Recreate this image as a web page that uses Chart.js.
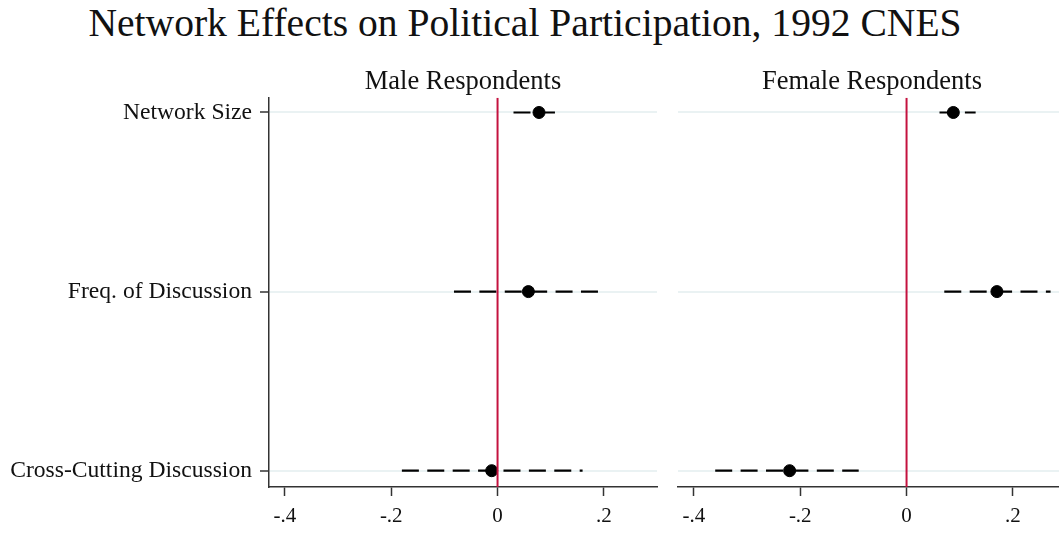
<!DOCTYPE html>
<html lang="en">
<head>
    <meta charset="UTF-8">
    <title>Network Effects on Political Participation, 1992 CNES</title>
    <style>
        body {
            margin: 0;
            padding: 0;
            background: #fff;
            overflow: hidden;
        }
        #wrap {
            position: relative;
            width: 1059px;
            height: 533px;
            overflow: hidden;
        }
        #mainTitle {
            position: absolute;
            left: 0;
            top: 3px;
            width: 1050px;
            text-align: center;
            font-family: "Liberation Serif", serif;
            font-size: 39.6px;
            line-height: 40px;
            color: #111;
        }
        #maleChart {
            position: absolute;
            left: 0;
            top: 0;
        }
        #femaleChart {
            position: absolute;
            left: 668px;
            top: 0;
        }
    </style>
</head>
<body>
    <div id="wrap">
        <div id="mainTitle">Network Effects on Political Participation, 1992 CNES</div>
        <canvas id="maleChart" width="667" height="533"></canvas>
        <canvas id="femaleChart" width="408" height="533"></canvas>
    </div>
    <script src="https://cdn.jsdelivr.net/npm/chart.js@4.4.0/dist/chart.umd.min.js"></script>
    <script>
        const categories = ['Network Size', 'Freq. of Discussion', 'Cross-Cutting Discussion'];

        const maleEst = [0.078, 0.058, -0.011];
        const maleLo = [0.030, -0.082, -0.180];
        const maleHi = [0.108, 0.189, 0.160];

        const femaleEst = [0.088, 0.170, -0.220];
        const femaleLo = [0.062, 0.071, -0.360];
        const femaleHi = [0.130, 0.271, -0.090];

        const xTicks = [-0.4, -0.2, 0, 0.2];
        const xTickLabels = ['-.4', '-.2', '0', '.2'];

        const serif = '"Liberation Serif", serif';
        const axisColor = '#333';
        const refColor = '#c4123f';
        const gridColor = '#eaf2f3';
        const yMin = 0.918;
        const yMax = 3.091;

        function buildDatasets(est, lo, hi) {
            const sets = [];
            // zero reference line, drawn on top
            sets.push({
                type: 'line',
                data: [{ x: 0, y: yMin }, { x: 0, y: yMax }],
                borderColor: refColor,
                borderWidth: 2,
                pointRadius: 0,
                order: -1
            });
            sets.push({
                type: 'scatter',
                data: est.map((v, i) => ({ x: v, y: i + 1 })),
                backgroundColor: '#000',
                borderColor: '#000',
                pointRadius: 6,
                order: 1
            });
            categories.forEach((c, i) => {
                sets.push({
                    type: 'line',
                    data: [{ x: lo[i], y: i + 1 }, { x: hi[i], y: i + 1 }],
                    borderColor: '#000',
                    borderWidth: 2.2,
                    borderDash: [17, 8.4],
                    pointRadius: 0,
                    order: 2
                });
            });
            return sets;
        }

        function makeChart(id, title, est, lo, hi, showY) {
            const ctx = document.getElementById(id).getContext('2d');
            return new Chart(ctx, {
                data: { datasets: buildDatasets(est, lo, hi) },
                options: {
                    responsive: false,
                    animation: false,
                    devicePixelRatio: 1,
                    layout: {
                        padding: { top: 66, right: 10, left: showY ? 0 : 10, bottom: 0 }
                    },
                    plugins: {
                        legend: { display: false },
                        tooltip: { enabled: false },
                        title: {
                            display: true,
                            text: title,
                            fullSize: false,
                            color: '#111',
                            font: { family: serif, size: 26.5, weight: 'normal', lineHeight: 1.2 },
                            padding: { top: 0, bottom: 0 }
                        }
                    },
                    scales: {
                        x: {
                            type: 'linear',
                            min: -0.43,
                            max: 0.30,
                            afterBuildTicks: s => { s.ticks = xTicks.map(v => ({ value: v })); },
                            afterFit: s => { s.height = 46; },
                            ticks: {
                                color: '#111',
                                font: { family: serif, size: 21 },
                                padding: 8,
                                callback: (v) => xTickLabels[xTicks.indexOf(v)]
                            },
                            grid: {
                                drawOnChartArea: false,
                                tickLength: 9,
                                tickColor: axisColor,
                                tickWidth: 1.5
                            },
                            border: { display: true, color: axisColor, width: 1.5 }
                        },
                        y: {
                            type: 'linear',
                            reverse: true,
                            min: yMin,
                            max: yMax,
                            afterBuildTicks: s => { s.ticks = categories.map((c, i) => ({ value: i + 1 })); },
                            afterFit: s => { s.width = showY ? 269 : 0; },
                            ticks: {
                                display: showY,
                                color: '#111',
                                font: { family: serif, size: 23.6 },
                                padding: 8,
                                callback: (v) => categories[v - 1]
                            },
                            grid: {
                                color: gridColor,
                                lineWidth: 2,
                                drawTicks: showY,
                                tickLength: 9,
                                tickColor: axisColor,
                                tickWidth: 1.5
                            },
                            border: { display: showY, color: axisColor, width: 1.5 }
                        }
                    }
                }
            });
        }

        makeChart('maleChart', 'Male Respondents', maleEst, maleLo, maleHi, true);
        makeChart('femaleChart', 'Female Respondents', femaleEst, femaleLo, femaleHi, false);
    </script>
</body>
</html>
